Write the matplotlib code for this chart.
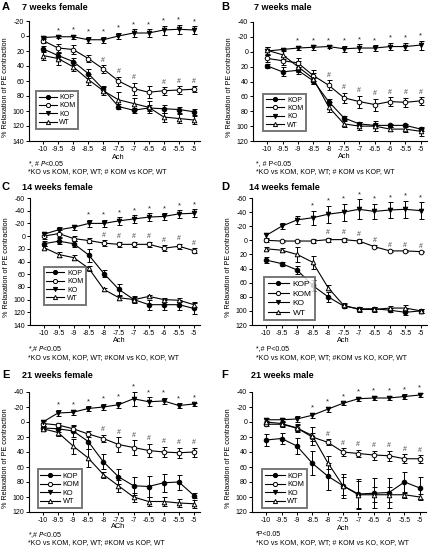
import matplotlib
matplotlib.use('Agg')
import matplotlib.pyplot as plt
from matplotlib.lines import Line2D

plt.rcParams['font.family'] = ['Liberation Sans', 'DejaVu Sans']
plt.rcParams['axes.unicode_minus'] = False

W, H = 439, 548

# ACh concentration (log M)
ach = [-10, -9.5, -9, -8.5, -8, -7.5, -7, -6.5, -6, -5.5, -5]
x_tick_labels = ['-10', '-9.5', '-9', '-8.5', '-8', '-7.5', '-7', '-6.5', '-6', '-5.5', '-5']
series_names = ['KOP', 'KOM', 'KO', 'WT']

# A - 7 weeks female
a_kop = [17, 26, 34, 50, 71, 94, 99, 96, 97, 98, 101]
a_kop_err = [4, 4, 5, 6, 4, 3, 3, 4, 5, 4, 4]
a_kom = [6, 16, 18, 30, 44, 60, 70, 75, 73, 72, 71]
a_kom_err = [3, 5, 6, 5, 5, 6, 8, 8, 5, 5, 4]
a_ko = [2, 1, 1, 5, 5, 0, -4, -4, -8, -9, -8]
a_ko_err = [2, 2, 3, 4, 4, 4, 5, 5, 6, 6, 5]
a_wt = [26, 30, 41, 58, 73, 85, 90, 95, 108, 110, 112]
a_wt_err = [6, 8, 6, 7, 5, 10, 8, 8, 6, 6, 5]
a_star = [-9.5, -9, -8.5, -8, -7.5, -7, -6.5, -6, -5.5, -5]
a_hash = [-8, -7.5, -7, -6, -5.5, -5]

# B - 7 weeks male
b_kop = [19, 27, 25, 39, 67, 89, 97, 99, 99, 99, 104]
b_kop_err = [3, 6, 5, 4, 4, 3, 3, 3, 2, 2, 2]
b_kom = [9, 12, 15, 32, 45, 62, 67, 71, 67, 68, 66]
b_kom_err = [5, 6, 6, 7, 7, 7, 8, 8, 6, 6, 5]
b_ko = [-1, -3, -5, -6, -7, -4, -5, -5, -7, -7, -9]
b_ko_err = [6, 2, 3, 3, 2, 4, 5, 4, 5, 5, 6]
b_wt = [-2, 4, 20, 36, 74, 97, 100, 100, 104, 104, 107]
b_wt_err = [5, 6, 7, 8, 7, 4, 5, 7, 3, 4, 6]
b_star = [-9, -8.5, -8, -7.5, -7, -6.5, -6, -5.5, -5]
b_hash = [-8, -7.5, -7, -6.5, -6, -5.5, -5]

# C - 14 weeks female
c_kop = [12, 8, 12, 30, 59, 84, 100, 108, 108, 108, 114]
c_kop_err = [4, 5, 5, 10, 6, 9, 6, 8, 8, 8, 8]
c_kom = [0, -4, 4, 7, 11, 13, 13, 13, 19, 16, 23]
c_kom_err = [5, 5, 4, 4, 5, 4, 4, 4, 5, 4, 4]
c_ko = [-3, -10, -14, -20, -20, -24, -27, -30, -31, -35, -36]
c_ko_err = [4, 5, 4, 6, 6, 6, 6, 6, 5, 6, 6]
c_wt = [18, 29, 34, 51, 84, 97, 100, 95, 100, 101, 108]
c_wt_err = [3, 4, 4, 4, 2, 3, 4, 3, 3, 3, 4]
c_star = [-8.5, -8, -7.5, -7, -6.5, -6, -5.5, -5]
c_hash = [-8, -7.5, -7, -6.5, -6, -5.5, -5]

# D - 14 weeks female
d_kop = [28, 33, 42, 64, 80, 93, 97, 97, 99, 102, 100]
d_kop_err = [4, 3, 6, 8, 7, 3, 3, 3, 3, 4, 3]
d_kom = [0, 1, 1, 1, -1, -1, 1, 9, 15, 15, 16]
d_kom_err = [2, 1, 1, 3, 3, 3, 3, 2, 1, 1, 1]
d_ko = [-7, -20, -29, -32, -37, -40, -44, -41, -43, -44, -42]
d_ko_err = [3, 4, 6, 10, 12, 12, 14, 11, 11, 12, 12]
d_wt = [12, 14, 20, 31, 67, 92, 98, 98, 96, 96, 100]
d_wt_err = [2, 3, 10, 9, 4, 3, 3, 3, 3, 4, 3]
d_star = [-8.5, -8, -7.5, -7, -6.5, -6, -5.5, -5]
d_hash = [-8, -7.5, -7, -6.5, -6, -5.5, -5]

# E - 21 weeks female
e_kop = [8, 9, 12, 26, 53, 73, 85, 86, 81, 80, 98]
e_kop_err = [3, 4, 8, 10, 10, 10, 12, 14, 12, 10, 3]
e_kom = [2, 4, 9, 16, 22, 30, 34, 38, 40, 41, 40]
e_kom_err = [3, 3, 4, 4, 5, 10, 10, 9, 7, 7, 6]
e_ko = [0, -12, -13, -18, -20, -23, -31, -27, -28, -22, -24]
e_ko_err = [3, 4, 3, 3, 4, 4, 9, 6, 4, 3, 2]
e_wt = [9, 14, 32, 48, 70, 85, 100, 106, 106, 108, 109]
e_wt_err = [3, 5, 10, 12, 4, 8, 6, 6, 6, 5, 5]
e_star = [-9.5, -9, -8.5, -8, -7.5, -7, -6.5, -6, -5.5, -5]
e_hash = [-8, -7.5, -7, -6.5, -6, -5.5, -5]

# F - 21 weeks male
f_kop = [24, 22, 32, 55, 72, 85, 96, 95, 94, 80, 88]
f_kop_err = [8, 7, 11, 16, 18, 16, 20, 20, 20, 14, 15]
f_kom = [3, 3, 8, 20, 27, 40, 42, 44, 45, 49, 49]
f_kom_err = [2, 3, 4, 5, 4, 5, 5, 6, 7, 6, 5]
f_ko = [-3, -3, -4, -9, -17, -25, -31, -32, -32, -34, -36]
f_ko_err = [3, 3, 4, 3, 3, 2, 3, 3, 3, 3, 3]
f_wt = [0, 2, 8, 18, 54, 85, 97, 97, 97, 97, 100]
f_wt_err = [2, 3, 5, 12, 9, 12, 18, 10, 10, 4, 4]
f_star = [-8.5, -8, -7.5, -7, -6.5, -6, -5.5, -5]
f_hash = [-8, -7.5, -7, -6.5, -6, -5.5, -5]

# panel layout in pixels
panels = [
    dict(letter='A', lx=2, title='7 weeks female', tx=22, ty=7, rect=(29, 21, 200, 141), ylim=(140, -20),
         series=[(a_kop, a_kop_err), (a_kom, a_kom_err), (a_ko, a_ko_err), (a_wt, a_wt_err)],
         star=a_star, hash=a_hash, leg=(0.04, 0.1), lfs=5, xlab='Ach', xly=157,
         notes=['*, # $\\it{P}$<0.05', '*KO vs KOM, KOP, WT; # KOM vs KOP, WT'], nx=28, ny=(164, 172)),
    dict(letter='B', lx=221, title='7 weeks male', tx=254, ty=7, rect=(253, 22, 427, 141), ylim=(120, -40),
         series=[(b_kop, b_kop_err), (b_kom, b_kom_err), (b_ko, b_ko_err), (b_wt, b_wt_err)],
         star=b_star, hash=b_hash, leg=(0.06, 0.08), lfs=5, xlab='Ach', xly=156,
         notes=['*, # P<0.05', '*KO vs KOM, KOP, WT; # KOM vs KOP, WT'], nx=256, ny=(164, 172)),
    dict(letter='C', lx=2, title='14 weeks female', tx=22, ty=187, rect=(30, 198, 200, 325), ylim=(140, -60),
         series=[(c_kop, c_kop_err), (c_kom, c_kom_err), (c_ko, c_ko_err), (c_wt, c_wt_err)],
         star=c_star, hash=c_hash, leg=(0.08, 0.16), lfs=5, xlab='Ach', xly=341,
         notes=['*,# $\\it{P}$<0.05', '*KO vs KOM, KOP, WT; #KOM vs KO, KOP, WT'], nx=28, ny=(349, 358)),
    dict(letter='D', lx=221, title='14 weeks female', tx=249, ty=187, rect=(252, 198, 427, 325), ylim=(120, -60),
         series=[(d_kop, d_kop_err), (d_kom, d_kom_err), (d_ko, d_ko_err), (d_wt, d_wt_err)],
         star=d_star, hash=d_hash, leg=(0.07, 0.04), lfs=6, xlab='Ach', xly=341,
         notes=['*,# P<0.05', '*KO vs KOM, KOP, WT; #KOM vs KO, KOP, WT'], nx=256, ny=(349, 358)),
    dict(letter='E', lx=2, title='21 weeks female', tx=22, ty=375, rect=(29, 392, 200, 512), ylim=(120, -40),
         series=[(e_kop, e_kop_err), (e_kom, e_kom_err), (e_ko, e_ko_err), (e_wt, e_wt_err)],
         star=e_star, hash=e_hash, leg=(0.05, 0.03), lfs=5.3, xlab='ACh', xly=527,
         notes=['*,# $\\it{P}$<0.05', '*KO vs KOM, KOP, WT; #KOM vs KOP, WT'], nx=28, ny=(535, 543)),
    dict(letter='F', lx=221, title='21 weeks male', tx=251, ty=375, rect=(252, 392, 426, 512), ylim=(120, -40),
         series=[(f_kop, f_kop_err), (f_kom, f_kom_err), (f_ko, f_ko_err), (f_wt, f_wt_err)],
         star=f_star, hash=f_hash, leg=(0.06, 0.03), lfs=5.3, xlab='Ach', xly=528,
         notes=['*P<0.05', '*KO vs KOM, KOP, WT; # KOM vs KO, KOP, WT'], nx=256, ny=(535, 543)),
]

styles = [
    dict(marker='o', mfc='black'),
    dict(marker='o', mfc='white'),
    dict(marker='v', mfc='black'),
    dict(marker='^', mfc='white'),
]

fig = plt.figure(figsize=(W / 100, H / 100), dpi=100)


def fx(x):
    return x / W


def fy(y):
    return 1 - y / H


for p in panels:
    l, t, r, b = p['rect']
    ax = fig.add_axes([fx(l), fy(b), (r - l) / W, (b - t) / H])
    for (vals, errs), st in zip(p['series'], styles):
        ax.errorbar(ach, vals, yerr=errs, color='black', lw=0.8, elinewidth=0.7,
                    capsize=1.8, capthick=0.7, marker=st['marker'], mfc=st['mfc'],
                    mec='black', mew=0.7, ms=3.3)
    ko, ko_err = p['series'][2]
    kom, kom_err = p['series'][1]
    for x in p['star']:
        i = ach.index(x)
        ax.annotate('*', (x, ko[i] - ko_err[i]), xytext=(0, 0.8), textcoords='offset points',
                    ha='center', va='bottom', fontsize=5.5, color='#222222')
    for x in p['hash']:
        i = ach.index(x)
        ax.annotate('#', (x, kom[i] - kom_err[i]), xytext=(0, 1), textcoords='offset points',
                    ha='center', va='bottom', fontsize=5, color='#444444')

    ax.set_xlim(-10.46, -4.8)
    ax.set_ylim(*p['ylim'])
    ax.set_xticks(ach)
    ax.set_xticklabels(x_tick_labels)
    ax.set_yticks(range(p['ylim'][1], p['ylim'][0] + 1, 20))
    ax.tick_params(labelsize=5, length=2.2, width=0.7, pad=1.2)
    ax.spines['top'].set_visible(False)
    ax.spines['right'].set_visible(False)
    ax.spines['left'].set_linewidth(0.8)
    ax.spines['bottom'].set_linewidth(0.8)
    ax.patch.set_alpha(0)

    handles = [Line2D([], [], color='black', lw=0.8, marker=st['marker'], mfc=st['mfc'],
                      mec='black', mew=0.7, ms=3) for st in styles]
    leg = ax.legend(handles, series_names, loc='lower left', bbox_to_anchor=p['leg'],
                    fontsize=p['lfs'], frameon=True, fancybox=False, handlelength=2.6,
                    handletextpad=0.4, borderpad=0.4, labelspacing=0.2, borderaxespad=0)
    leg.get_frame().set_edgecolor('#555555')
    leg.get_frame().set_linewidth(1.4)

    fig.text(fx(p['lx']), fy(p['ty']), p['letter'],
             fontsize=8, fontweight='bold', ha='left', va='center')
    fig.text(fx(p['tx']), fy(p['ty']), p['title'], fontsize=6.5, fontweight='bold',
             ha='left', va='center')
    fig.text(fx(l - 23), fy((t + b) / 2 + 6), '% Relaxation of PE contraction', fontsize=5.2,
             rotation=90, ha='center', va='center')
    xc = l + (r - l) * (-7.5 + 10.46) / 5.66
    fig.text(fx(xc), fy(p['xly']), p['xlab'], fontsize=5.3, ha='center', va='center')
    for note, ny in zip(p['notes'], p['ny']):
        fig.text(fx(p['nx']), fy(ny), note, fontsize=5, ha='left', va='center')

fig.savefig('out.png', dpi=100)
